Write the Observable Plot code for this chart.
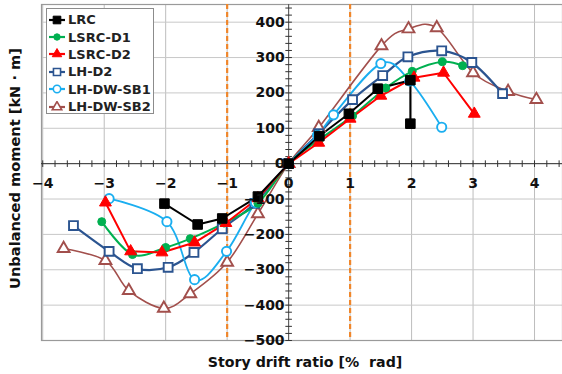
<!DOCTYPE html>
<html>
<head>
<meta charset="utf-8">
<script src="https://cdn.jsdelivr.net/npm/d3@7"></script>
<script src="https://cdn.jsdelivr.net/npm/@observablehq/plot@0.6"></script>
<style>
  html, body { margin: 0; padding: 0; background: #fff; }
  #wrap { position: relative; width: 562px; height: 374px; font-family: "DejaVu Sans", sans-serif; }
  #legend { position: absolute; left: 46px; top: 8px; width: 106px; height: 102px; border: 1px solid #8c8c8c; background: #fff; padding-top: 2px; box-sizing: content-box; }
  .row { display: flex; align-items: center; height: 17.4px; font-weight: bold; font-size: 13px; color: #222; }
  .row svg { margin-left: 1px; margin-right: 2px; }
</style>
</head>
<body>
<div id="wrap"><div id="legend"></div></div>
<script>
// ---- data ----
const seriesNames = ["LRC", "LSRC-D1", "LSRC-D2", "LH-D2", "LH-DW-SB1", "LH-DW-SB2"];
const seriesColors = ["#000000", "#00b050", "#ff0000", "#2b5490", "#1aaef0", "#a24f4c"];

const lrcX = [-2.02, -1.48, -1.08, -0.5, 0, 0.5, 0.98, 1.45, 1.98, 1.98];
const lrcY = [-113, -172, -155, -93, 0, 78, 141, 212, 236, 113];

const lsrcD1X = [-3.04, -2.54, -2.0, -1.6, -1.05, -0.5, 0, 0.5, 1.04, 1.58, 2.01, 2.5, 2.83];
const lsrcD1Y = [-164, -257, -237, -212, -168, -112, 0, 68, 135, 214, 261, 288, 277];

const lsrcD2X = [-2.98, -2.57, -2.06, -1.53, -1.02, -0.5, 0, 0.49, 1.0, 1.5, 2.04, 2.52, 3.02];
const lsrcD2Y = [-110, -248, -251, -223, -168, -98, 0, 59, 127, 192, 243, 257, 141];

const lhD2X = [-3.5, -2.92, -2.46, -1.96, -1.54, -1.08, -0.55, 0, 0.49, 1.04, 1.53, 1.94, 2.49, 2.98, 3.48];
const lhD2Y = [-175, -248, -297, -293, -251, -184, -112, 0, 85, 181, 249, 302, 319, 286, 198];

const lhSB1X = [-2.92, -1.98, -1.53, -1.01, -0.54, 0, 0.47, 0.73, 1.5, 1.97, 2.49];
const lhSB1Y = [-99, -164, -328, -248, -110, 0, 80, 138, 283, 234, 103];

const lhSB2X = [-3.66, -2.98, -2.6, -2.03, -1.6, -1.0, -0.5, 0, 0.49, 1.51, 1.95, 2.41, 3.0, 3.57, 4.03];
const lhSB2Y = [-240, -274, -359, -409, -368, -279, -142, 0, 102, 333, 381, 384, 257, 204, 181];

const xTickLabels = [-4, -3, -2, -1, 0, 1, 2, 3, 4];
const yTickLabels = [400, 300, 200, 100, 0, -100, -200, -300, -400, -500];
const dashedX = [-1, 1];

// ---- styles per series ----
const seriesX = [lrcX, lsrcD1X, lsrcD2X, lhD2X, lhSB1X, lhSB2X];
const seriesY = [lrcY, lsrcD1Y, lsrcD2Y, lhD2Y, lhSB1Y, lhSB2Y];
const styles = [
  {symbol: "square",   r: 5.4, filled: true,  curve: "linear",   sw: 2},
  {symbol: "circle",   r: 4.0, filled: true,  curve: "cardinal", sw: 2},
  {symbol: "triangle", r: 4.4, filled: true,  curve: "linear",   sw: 2},
  {symbol: "square",   r: 5.0, filled: false, curve: "cardinal", sw: 2.2},
  {symbol: "circle",   r: 4.6, filled: false, curve: "cardinal", sw: 1.8},
  {symbol: "triangle", r: 4.4, filled: false, curve: "cardinal", sw: 1.6}
];
const drawOrder = [5, 3, 4, 1, 2, 0];

const minorX = d3.range(-4, 4.41, 0.2).map(v => Math.round(v * 10) / 10);
const minorY = d3.range(-500, 441, 20);
const tickSym = {draw(ctx, size) { const r = Math.sqrt(size / Math.PI); ctx.moveTo(0, -r); ctx.lineTo(0, r); }};
const tickSymH = {draw(ctx, size) { const r = Math.sqrt(size / Math.PI); ctx.moveTo(-r, 0); ctx.lineTo(r, 0); }};
const fmt = v => v < 0 ? "\u2212" + Math.abs(v) : String(v);

const marks = [
  Plot.gridX(xTickLabels, {stroke: "#bdbdbd", strokeOpacity: 1, strokeWidth: 1}),
  Plot.gridY(yTickLabels, {stroke: "#c8c8c8", strokeOpacity: 1, strokeWidth: 1}),
  Plot.frame({stroke: "#9a9a9a", strokeWidth: 1.2}),
  Plot.ruleY([0], {stroke: "#333", strokeWidth: 1}),
  Plot.ruleX([0], {stroke: "#555", strokeWidth: 1}),
  Plot.dot(minorX, {x: d => d, y: 0, symbol: tickSym, r: 3.3, stroke: "#333", fill: "none", strokeWidth: 1}),
  Plot.dot(minorY, {x: 0, y: d => d, symbol: tickSymH, r: 3.3, stroke: "#333", fill: "none", strokeWidth: 1}),
  Plot.ruleX(dashedX, {stroke: "#f0862a", strokeWidth: 2.2, strokeDasharray: "5,3"})
];

for (const i of drawOrder) {
  const st = styles[i];
  const rows = seriesX[i].map((x, k) => ({x, y: seriesY[i][k]}));
  marks.push(Plot.line(rows, {x: "x", y: "y", stroke: seriesColors[i], strokeWidth: st.sw, curve: st.curve}));
}
for (const i of drawOrder) {
  const st = styles[i];
  const rows = seriesX[i].map((x, k) => ({x, y: seriesY[i][k]}));
  marks.push(Plot.dot(rows, {x: "x", y: "y", symbol: st.symbol, r: st.r,
    fill: st.filled ? seriesColors[i] : "white", stroke: seriesColors[i], strokeWidth: st.filled ? 1 : 1.9}));
}

marks.push(
  Plot.text(xTickLabels, {x: d => d, y: 0, dy: 20, text: fmt, fontSize: 14, fontWeight: "bold", fill: "#111"}),
  Plot.text(yTickLabels, {x: 0, y: d => d, dx: -4, text: fmt, textAnchor: "end", fontSize: 14, fontWeight: "bold", fill: "#111"}),
  Plot.text(["Story drift ratio [%  rad]"], {frameAnchor: "bottom", dy: 22, dx: 3, text: d => d, textAnchor: "middle", lineAnchor: "middle", fontSize: 14.2, fontWeight: "bold", fill: "#111"}),
  Plot.text(["Unbalanced moment [kN \u00b7 m]"], {frameAnchor: "left", dx: -26, dy: -4, rotate: -90, text: d => d, textAnchor: "middle", lineAnchor: "middle", fontSize: 14.6, fontWeight: "bold", fill: "#111"})
);

const chart = Plot.plot({
  width: 562,
  height: 374,
  marginLeft: 41,
  marginRight: 0,
  marginTop: 4,
  marginBottom: 34,
  style: {fontFamily: "DejaVu Sans", background: "white", overflow: "visible"},
  x: {domain: [-4.02, 4.455], axis: null},
  y: {domain: [-500, 450], axis: null},
  marks
});
document.getElementById("wrap").prepend(chart);

// ---- legend ----
const legend = document.getElementById("legend");
const symMap = {square: d3.symbolSquare, circle: d3.symbolCircle, triangle: d3.symbolTriangle};
seriesNames.forEach((name, i) => {
  const st = styles[i];
  const row = document.createElement("div");
  row.className = "row";
  const ns = "http://www.w3.org/2000/svg";
  const svg = document.createElementNS(ns, "svg");
  svg.setAttribute("width", 18); svg.setAttribute("height", 12);
  const ln = document.createElementNS(ns, "line");
  ln.setAttribute("x1", 1); ln.setAttribute("x2", 17); ln.setAttribute("y1", 6); ln.setAttribute("y2", 6);
  ln.setAttribute("stroke", seriesColors[i]); ln.setAttribute("stroke-width", 2.2);
  svg.appendChild(ln);
  const p = document.createElementNS(ns, "path");
  const rr = st.r * 0.8;
  p.setAttribute("d", d3.symbol(symMap[st.symbol], Math.PI * rr * rr)());
  p.setAttribute("transform", "translate(9,6)");
  p.setAttribute("fill", st.filled ? seriesColors[i] : "white");
  p.setAttribute("stroke", seriesColors[i]);
  p.setAttribute("stroke-width", st.filled ? 1 : 1.6);
  svg.appendChild(p);
  row.appendChild(svg);
  const t = document.createElement("span");
  t.textContent = name;
  row.appendChild(t);
  legend.appendChild(row);
});
</script>
</body>
</html>
